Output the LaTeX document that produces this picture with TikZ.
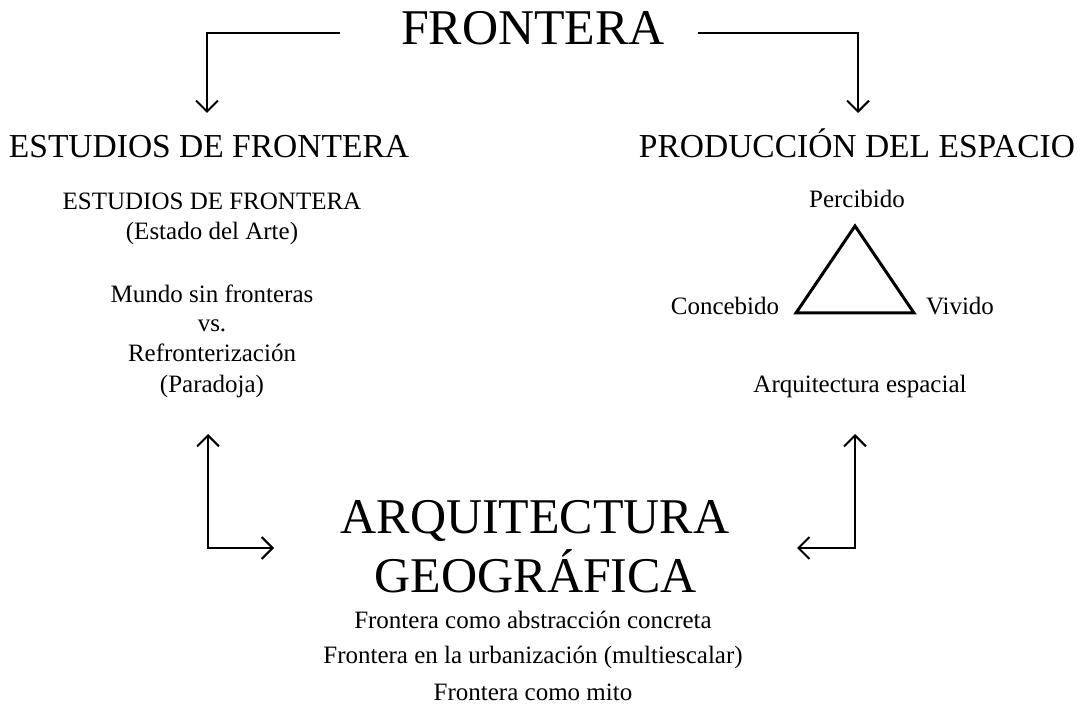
\documentclass[tikz,border=0pt]{standalone}
\usepackage{fontspec}
\setmainfont{Liberation Serif}
\usetikzlibrary{arrows.meta}
\begin{document}
\begin{tikzpicture}[x=1pt,y=-1pt,
  every node/.style={inner sep=0pt, anchor=base},
  big/.style={font=\fontsize{50}{56}\selectfont},
  head/.style={font=\fontsize{33.5}{38}\selectfont},
  txt/.style={font=\fontsize{25}{30}\selectfont},
  tip/.tip={Straight Barb[length=11pt,width=22pt,line width=2pt]},
  conn/.style={line width=2pt, -tip},
  conn2/.style={line width=2pt, tip-tip}]
\useasboundingbox (0,0) rectangle (1085,711);
\node[big] (front) at (533,45) {FRONTERA};
\node[head] (est) at (209,158) {ESTUDIOS DE FRONTERA};
\node[head] (prod) at (857,158) {PRODUCCIÓN DEL ESPACIO};
\coordinate (l1) at (340,33);
\coordinate (l2) at (207,33);
\coordinate (l3) at (207,113);
\coordinate (r1) at (698,33);
\coordinate (r2) at (858,33);
\coordinate (r3) at (858,113);
\draw[conn] (l1) -- (l2) -- (l3);
\draw[conn] (r1) -- (r2) -- (r3);
\node[txt] (e1) at (212,210) {ESTUDIOS DE FRONTERA};
\node[txt] (e2) at (212,240) {(Estado del Arte)};
\node[txt] (m1) at (212,303) {Mundo sin fronteras};
\node[txt] (m2) at (212,332) {vs.};
\node[txt] (m3) at (212,362) {Refronterización};
\node[txt] (m4) at (212,392) {(Paradoja)};
\node[txt] (perc) at (857,208) {Percibido};
\node[txt] (conc) at (725,315) {Concebido};
\node[txt] (viv) at (960,315) {Vivido};
\coordinate (ta) at (855,226);
\coordinate (tl) at (796,313);
\coordinate (tr) at (914,313);
\draw[line width=3pt, line join=miter] (ta) -- (tl) -- (tr) -- cycle;
\node[txt] (arqe) at (860,392) {Arquitectura espacial};
\node[big] (arq1) at (535,533) {ARQUITECTURA};
\node[big] (arq2) at (536,592) {GEOGRÁFICA};
\node[txt] (b1) at (533,628) {Frontera como abstracción concreta};
\node[txt] (b2) at (533,663) {Frontera en la urbanización (multiescalar)};
\node[txt] (b3) at (533,700) {Frontera como mito};
\coordinate (a1) at (208,434);
\coordinate (a2) at (208,548);
\coordinate (a3) at (274,548);
\coordinate (c1) at (855,434);
\coordinate (c2) at (855,548);
\coordinate (c3) at (797,548);
\draw[conn2] (a1) -- (a2) -- (a3);
\draw[conn2] (c1) -- (c2) -- (c3);
\end{tikzpicture}
\end{document}
